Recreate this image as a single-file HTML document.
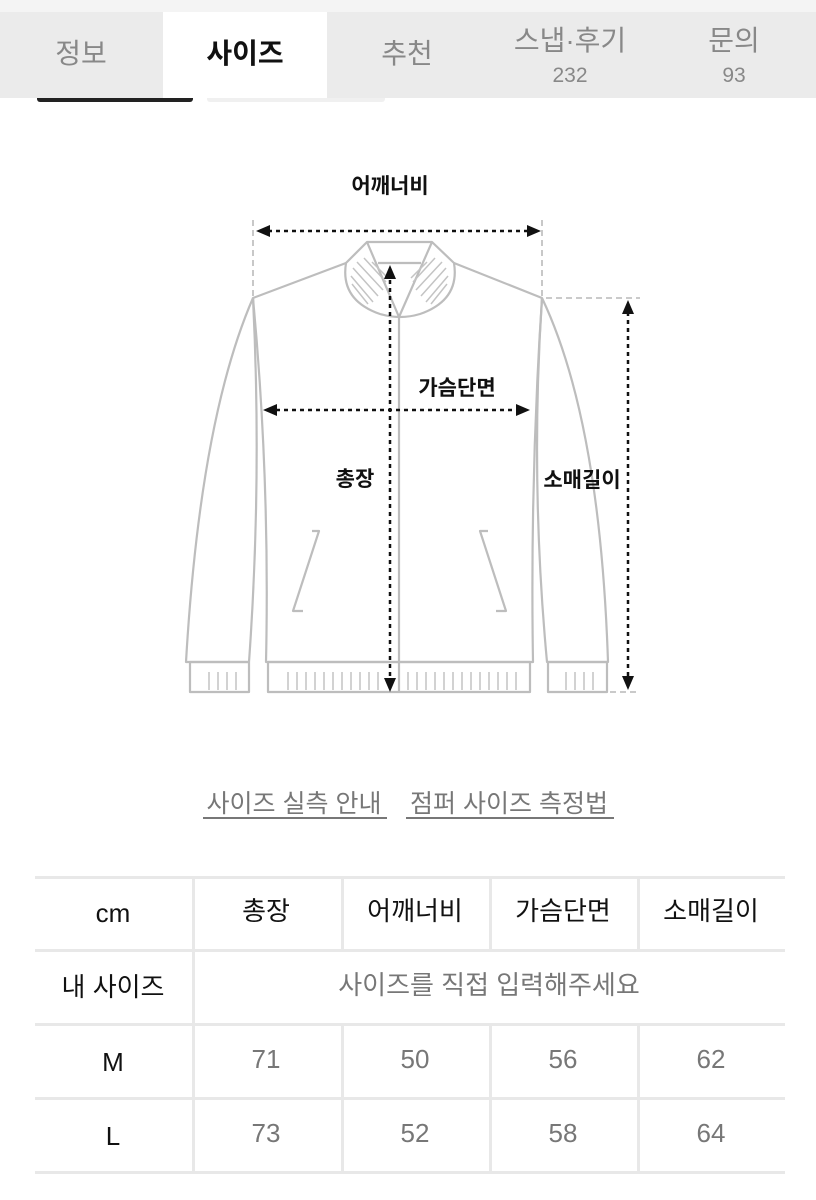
<!DOCTYPE html>
<html><head><meta charset="utf-8"><style>
html,body{margin:0;padding:0;background:#fff;}
svg{display:block;font-family:"Liberation Sans","Noto Sans CJK KR",sans-serif;}
</style></head><body>
<svg width="816" height="1200" viewBox="0 0 816 1200" xmlns="http://www.w3.org/2000/svg">
<rect x="0" y="0" width="816" height="12" fill="#f4f4f4"/>
<rect x="37" y="94" width="156" height="8" rx="3" fill="#222"/>
<rect x="207" y="94" width="178" height="8" rx="3" fill="#f0f0f0"/>
<rect x="0" y="12" width="816" height="86" fill="#ebebeb"/>
<rect x="163" y="12" width="164" height="86" fill="#fff"/>
<g font-size="28" text-anchor="middle" fill="#888">
<text x="81" y="63">정보</text>
<text x="245" y="63" fill="#111" font-weight="bold">사이즈</text>
<text x="407" y="63">추천</text>
<text x="570" y="50">스냅·후기</text>
<text x="734" y="50">문의</text>
</g>
<g font-size="21" text-anchor="middle" fill="#888">
<text x="570" y="82">232</text><text x="734" y="82">93</text>
</g>

<!-- jacket -->
<g fill="none" stroke="#bdbdbd" stroke-width="2.2" stroke-linejoin="round">
<path d="M367,242 L432,242 L454,263 Q460,300 420,314 Q400,320 380,314 Q340,300 346,263 Z"/>
<path d="M378,263 L421,263"/>
<path d="M367,242 L399,317 L432,242"/>
<path d="M346,263 L253,298 Q200,420 186,662 L249,662 Q262,480 253,298"/>
<path d="M454,263 L542,298 Q600,420 608,662 L547,662 Q530,480 542,298"/>
<path d="M253,298 Q270,480 266,662 L533,662 Q530,480 542,298"/>
<path d="M399,317 L399,692"/>
<rect x="190" y="662" width="59" height="30"/>
<rect x="268" y="662" width="262" height="30"/>
<rect x="548" y="662" width="59" height="30"/>
<path d="M312,531 L319,531 L293,611 L303,611"/>
<path d="M488,531 L480,531 L506,611 L496,611"/>
</g>
<g stroke="#c4c4c4" stroke-width="1.5">
<path d="M353,268 L378,296 M351,276 L373,302 M352,284 L368,304 M357,262 L383,290 M364,258 L386,282 M372,262 L388,278"/>
<path d="M446,268 L421,296 M448,276 L426,302 M447,284 L431,304 M442,262 L416,290 M435,258 L413,282 M427,262 L411,278"/>
<path d="M209,672v18M218,672v18M227,672v18M236,672v18M566,672v18M575,672v18M584,672v18M593,672v18"/>
<path d="M288,672v18M297,672v18M306,672v18M315,672v18M324,672v18M333,672v18M342,672v18M351,672v18M360,672v18M369,672v18M378,672v18M408,672v18M417,672v18M426,672v18M435,672v18M444,672v18M453,672v18M462,672v18M471,672v18M480,672v18M489,672v18M498,672v18M507,672v18M516,672v18"/>
</g>
<g stroke="#aaa" stroke-width="1.3" stroke-dasharray="6,4" fill="none">
<path d="M253,220V298M542,220V298M546,298H640M610,692H640"/>
</g>
<g stroke="#111" stroke-width="2.5" stroke-dasharray="4,4" fill="none">
<path d="M268,231H528M276,410H518M390,280V680M628,312V678"/>
</g>
<g fill="#111">
<path d="M256,231 L270,225 L270,237Z M541,231 L527,225 L527,237Z"/>
<path d="M263,410 L277,404 L277,416Z M530,410 L516,404 L516,416Z"/>
<path d="M390,265 L384,279 L396,279Z M390,692 L384,678 L396,678Z"/>
<path d="M628,300 L622,314 L634,314Z M628,690 L622,676 L634,676Z"/>
</g>
<g font-size="21" font-weight="bold" fill="#111" text-anchor="middle">
<text x="390" y="193">어깨너비</text>
<text x="457" y="395">가슴단면</text>
<text x="355" y="486">총장</text>
<text x="582" y="487">소매길이</text>
</g>

<g font-size="25" fill="#777" text-anchor="middle">
<text x="294" y="812">사이즈 실측 안내</text>
<text x="509" y="812">점퍼 사이즈 측정법</text>
</g>
<rect x="203" y="817" width="184" height="2" fill="#777"/>
<rect x="406" y="817" width="208" height="2" fill="#777"/>

<!-- table -->
<g fill="#e8e8e8">
<rect x="35" y="876" width="750" height="3"/>
<rect x="35" y="949" width="750" height="3"/>
<rect x="35" y="1023" width="750" height="3"/>
<rect x="35" y="1097" width="750" height="3"/>
<rect x="35" y="1171" width="750" height="3"/>
<rect x="192" y="876" width="3" height="297"/>
<rect x="341" y="876" width="3" height="75"/>
<rect x="489" y="876" width="3" height="75"/>
<rect x="637" y="876" width="3" height="75"/>
<rect x="341" y="1024" width="3" height="149"/>
<rect x="489" y="1024" width="3" height="149"/>
<rect x="637" y="1024" width="3" height="149"/>
</g>
<g font-size="26" text-anchor="middle" fill="#111">
<text x="113" y="922">cm</text>
<text x="266" y="920">총장</text>
<text x="415" y="920">어깨너비</text>
<text x="563" y="920">가슴단면</text>
<text x="711" y="920">소매길이</text>
<text x="113" y="996">내 사이즈</text>
<text x="113" y="1071">M</text>
<text x="113" y="1145">L</text>
</g>
<g font-size="26" text-anchor="middle" fill="#777">
<text x="489" y="994">사이즈를 직접 입력해주세요</text>
<text x="266" y="1068">71</text><text x="415" y="1068">50</text><text x="563" y="1068">56</text><text x="711" y="1068">62</text>
<text x="266" y="1142">73</text><text x="415" y="1142">52</text><text x="563" y="1142">58</text><text x="711" y="1142">64</text>
</g>
</svg>
</body></html>
